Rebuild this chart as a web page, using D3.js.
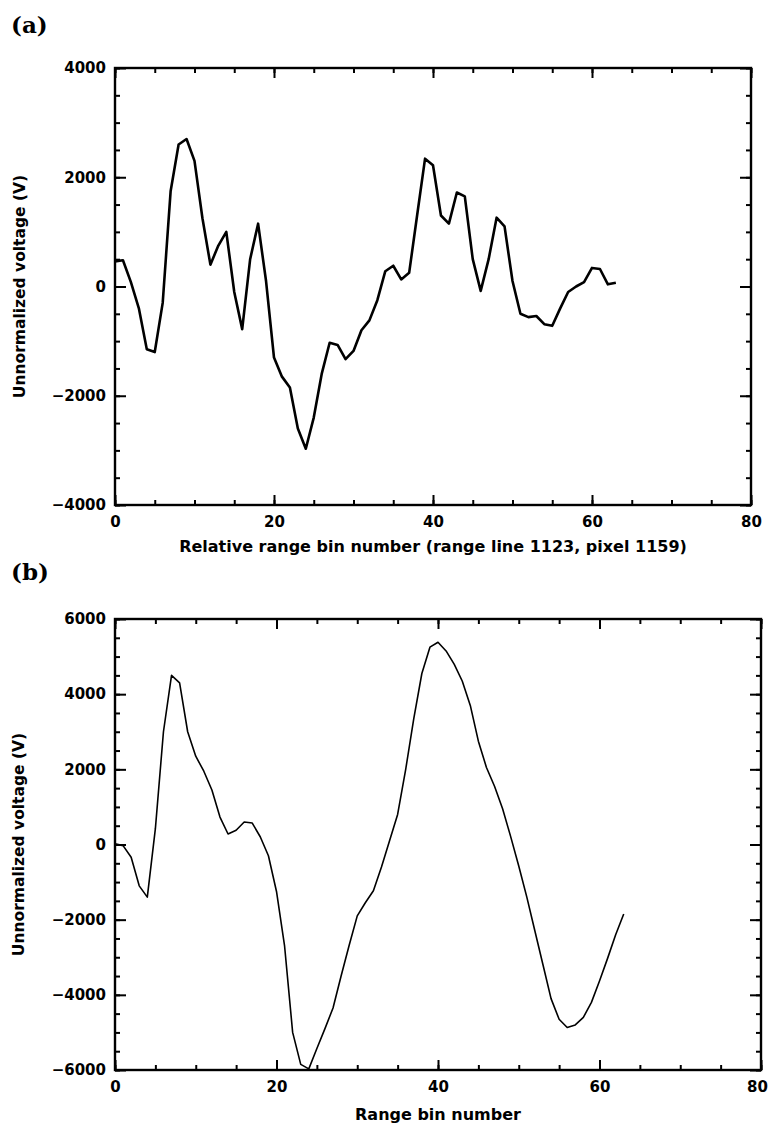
<!DOCTYPE html>
<html>
<head>
<meta charset="utf-8">
<script src="https://cdn.jsdelivr.net/npm/d3@7"></script>
<style>
  html, body { margin: 0; padding: 0; background: #fff; }
  svg text { font-family: "DejaVu Sans", Arial, sans-serif; font-weight: bold; fill: #000; }
</style>
</head>
<body>
<svg id="chart" width="768" height="1127"></svg>
<script>
// range bin index, 64 samples per trace
const bins = d3.range(0, 64);

// (a) relative range bins, range line 1123, pixel 1159
const voltageA = [
  460, 480, 80, -400, -1150, -1200, -300, 1750, 2600, 2700,
  2300, 1250, 400, 750, 1000, -100, -780, 500, 1150, 100,
  -1300, -1650, -1850, -2600, -2970, -2400, -1600, -1030, -1070, -1330,
  -1180, -800, -620, -250, 280, 380, 130, 250, 1300, 2340,
  2220, 1300, 1150, 1720, 1650, 500, -80, 500, 1260, 1100,
  100, -500, -560, -540, -690, -720, -400, -100, 0, 80,
  340, 320, 40, 70
];

// (b) range bins
const voltageB = [
  20, -30, -340, -1100, -1400, 420, 3000, 4500, 4300, 3000,
  2350, 1950, 1450, 730, 280, 380, 600, 570, 200, -300,
  -1250, -2700, -5000, -5850, -5970, -5430, -4900, -4350, -3500, -2680,
  -1900, -1550, -1230, -600, 100, 800, 2000, 3350, 4550, 5250,
  5380, 5150, 4800, 4350, 3700, 2750, 2050, 1550, 950, 210,
  -570, -1400, -2300, -3200, -4100, -4650, -4870, -4800, -4600, -4200,
  -3630, -3030, -2400, -1850
];

const xTicks = [0, 20, 40, 60, 80];
const yTicksA = [-4000, -2000, 0, 2000, 4000];
const yTicksB = [-6000, -4000, -2000, 0, 2000, 4000, 6000];

const svg = d3.select('#chart');

function drawPanel(opt) {
    const x = d3.scaleLinear().domain([0, 80]).range([opt.left, opt.right]);
    const y = d3.scaleLinear().domain(opt.yDomain).range([opt.bottom, opt.top]);
    const g = svg.append('g');

    const xMinor = d3.range(0, 81, 5);
    const yMinor = d3.range(opt.yDomain[0], opt.yDomain[1] + 1, 500);

    // minor ticks on all four sides, pointing inward
    g.append('g').attr('transform', `translate(0,${opt.bottom})`)
        .call(d3.axisBottom(x).tickValues(xMinor).tickSize(-5).tickFormat(''));
    g.append('g').attr('transform', `translate(0,${opt.top})`)
        .call(d3.axisTop(x).tickValues(xMinor).tickSize(-5).tickFormat(''));
    g.append('g').attr('transform', `translate(${opt.left},0)`)
        .call(d3.axisLeft(y).tickValues(yMinor).tickSize(-5).tickFormat(''));
    g.append('g').attr('transform', `translate(${opt.right},0)`)
        .call(d3.axisRight(y).tickValues(yMinor).tickSize(-5).tickFormat(''));

    // major ticks
    g.append('g').attr('class', 'lab xlab').attr('transform', `translate(0,${opt.bottom})`)
        .call(d3.axisBottom(x).tickValues(xTicks).tickSize(-10).tickPadding(11).tickFormat(d3.format('d')));
    g.append('g').attr('transform', `translate(0,${opt.top})`)
        .call(d3.axisTop(x).tickValues(xTicks).tickSize(-10).tickFormat(''));
    g.append('g').attr('class', 'lab').attr('transform', `translate(${opt.left},0)`)
        .call(d3.axisLeft(y).tickValues(opt.yTicks).tickSize(-11).tickPadding(9).tickFormat(d3.format('d')));
    g.append('g').attr('transform', `translate(${opt.right},0)`)
        .call(d3.axisRight(y).tickValues(opt.yTicks).tickSize(-11).tickFormat(''));

    g.selectAll('.domain').remove();
    g.selectAll('.tick line').attr('stroke', '#000').attr('stroke-width', 2);
    g.selectAll('.lab text').style('font-size', '15px').attr('fill', '#000');
    // keep the last x label inside the page
    g.selectAll('.xlab .tick text').filter(function (d) { return d === 80; }).attr('dx', opt.lastDx);

    // frame
    g.append('rect')
        .attr('x', opt.left).attr('y', opt.top)
        .attr('width', opt.right - opt.left).attr('height', opt.bottom - opt.top)
        .attr('fill', 'none').attr('stroke', '#000').attr('stroke-width', 2.4);

    const line = d3.line()
        .x(function (d, i) { return x(bins[i]); })
        .y(function (d) { return y(d); });

    g.append('path')
        .datum(opt.values)
        .attr('fill', 'none')
        .attr('stroke', '#000')
        .attr('stroke-width', opt.lineWidth)
        .attr('stroke-linejoin', 'round')
        .attr('d', line);

    // axis titles
    g.append('text')
        .attr('x', (opt.left + opt.right) / 2)
        .attr('y', opt.xTitleY)
        .attr('text-anchor', 'middle')
        .style('font-size', '16px')
        .text(opt.xTitle);

    g.append('text')
        .attr('transform', `translate(${opt.yTitleX},${(opt.top + opt.bottom) / 2}) rotate(-90)`)
        .attr('text-anchor', 'middle')
        .style('font-size', '15.5px')
        .text('Unnormalized voltage (V)');

    // panel letter
    g.append('text')
        .attr('x', 11)
        .attr('y', opt.letterY)
        .style('font-family', '"DejaVu Serif", "Liberation Serif", serif')
        .style('font-weight', 'bold')
        .style('font-size', '23px')
        .text(opt.letter);
}

drawPanel({
    left: 115, right: 751, top: 68, bottom: 505,
    yDomain: [-4000, 4000], yTicks: yTicksA,
    values: voltageA, lineWidth: 2.6, lastDx: 0,
    xTitle: 'Relative range bin number (range line 1123, pixel 1159)',
    xTitleY: 552, yTitleX: 25,
    letter: '(a)', letterY: 33
});

drawPanel({
    left: 115, right: 761, top: 619, bottom: 1070,
    yDomain: [-6000, 6000], yTicks: yTicksB,
    values: voltageB, lineWidth: 1.6, lastDx: -4,
    xTitle: 'Range bin number',
    xTitleY: 1120, yTitleX: 24,
    letter: '(b)', letterY: 580
});
</script>
</body>
</html>
